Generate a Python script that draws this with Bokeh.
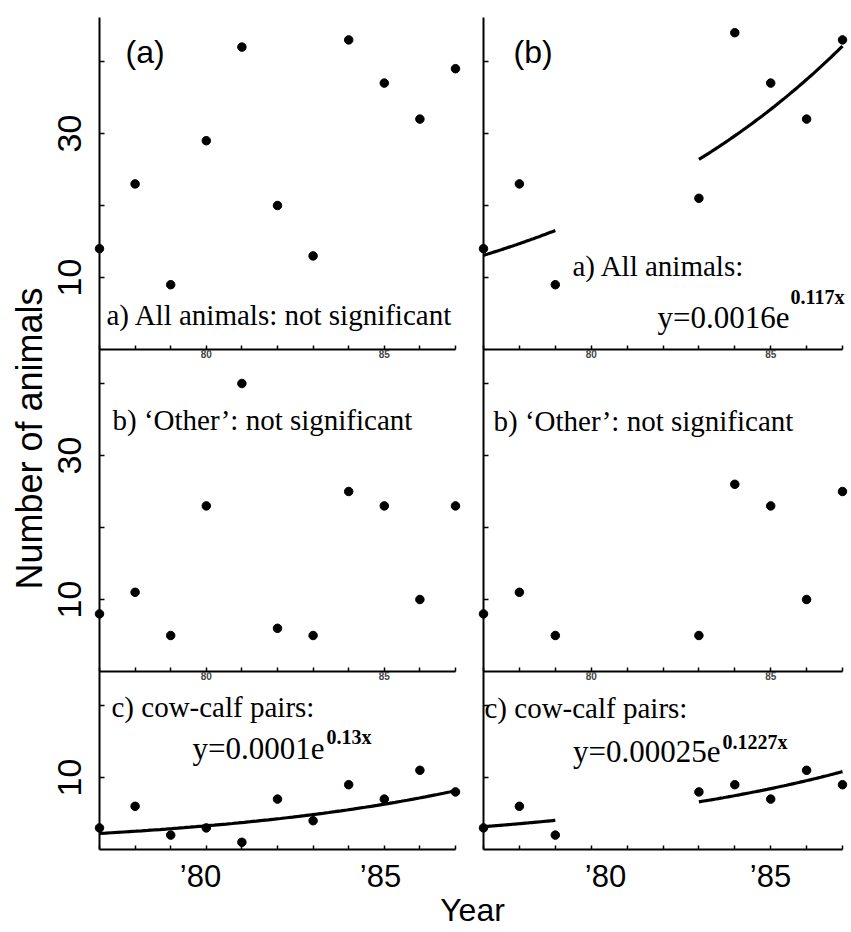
import math
import numpy as np
from bokeh.plotting import figure
from bokeh.models import Range1d, LinearAxis, FixedTicker, Label
from bokeh.embed import file_html
from bokeh.resources import INLINE

# ---------------- data ----------------
years_a = [1977, 1978, 1979, 1980, 1981, 1982, 1983, 1984, 1985, 1986, 1987]
all_a = [14, 23, 9, 29, 42, 20, 13, 43, 37, 32, 39]
other_a = [8, 11, 5, 23, 40, 6, 5, 25, 23, 10, 23]
cowcalf_a = [3, 6, 2, 3, 1, 7, 4, 9, 7, 11, 8]

years_b = [1977, 1978, 1979, 1983, 1984, 1985, 1986, 1987]
all_b = [14, 23, 9, 21, 44, 37, 32, 43]
other_b = [8, 11, 5, 5, 26, 23, 10, 25]
cowcalf_b = [3, 6, 2, 8, 9, 7, 11, 9]

# fitted exponential models y = a * exp(k * x), x = two-digit year
fit_all_b = (0.0016, 0.117)
fit_cowcalf_a = (0.0001, 0.13)
fit_cowcalf_b = (0.00025, 0.1227)
fit_span_a = [(1977, 1987)]
fit_span_b = [(1977, 1979), (1983, 1987)]

tick_years = [1977, 1978, 1979, 1980, 1981, 1982, 1983, 1984, 1985, 1986, 1987]
small_year_labels = {1980: "80", 1985: "85"}
big_year_labels = ["\u201980", "\u201985"]
y_ticks_tall = [10, 20, 30, 40]
y_ticks_short = [10, 20]
y_tick_labels = {10: "10", 30: "30"}

# ---------------- layout geometry (screen pixels) ----------------
W, H = 850, 931
COLS = {"default": (99.0, 35.6), "right": (483.0, 35.9)}     # x of 1977, px per year
ROWS = {"default": 349.0, "mid": 671.0, "bot": 849.0}        # y of value 0
PPU = 7.2                                                    # px per animal
ROW_TOP = {"default": 17.0, "mid": 349.0, "bot": 671.0}


def xrange_for(col):
    x0, ppy = COLS[col]
    start = 1977 - x0 / ppy
    return Range1d(start, start + W / ppy)


def yrange_for(row):
    y0 = ROWS[row]
    return Range1d(-(H - y0) / PPU, y0 / PPU)


def lx(sx):
    x0, ppy = COLS["default"]
    return 1977 + (sx - x0) / ppy


def ly(sy):
    return (ROWS["default"] - sy) / PPU


p = figure(width=W, height=H, x_range=xrange_for("default"), y_range=yrange_for("default"),
           x_axis_type=None, y_axis_type=None, toolbar_location=None, output_backend="svg",
           min_border=0, outline_line_color=None, title=None)
p.extra_x_ranges = {"right": xrange_for("right")}
p.extra_y_ranges = {"mid": yrange_for("mid"), "bot": yrange_for("bot")}

SANS = "Liberation Sans"
SERIF = "Liberation Serif"

for col in ["default", "right"]:
    for row in ["default", "mid", "bot"]:
        top_val = (ROWS[row] - ROW_TOP[row]) / PPU
        yt = y_ticks_short if row == "bot" else y_ticks_tall
        yax = LinearAxis(x_range_name=col, y_range_name=row, fixed_location=1977,
                         bounds=(0, top_val), ticker=FixedTicker(ticks=yt),
                         major_label_overrides={t: y_tick_labels.get(t, "") for t in yt},
                         major_label_orientation="parallel",
                         major_label_text_font=SANS, major_label_text_font_size="34px",
                         major_label_text_color="black" if col == "default" else None,
                         major_label_standoff=19,
                         major_tick_in=5, major_tick_out=0, major_tick_line_width=1.5,
                         minor_tick_line_color=None, axis_line_width=2)
        p.add_layout(yax, "left")
        if row == "bot":
            labels = {t: "" for t in tick_years}
        else:
            labels = {t: small_year_labels.get(t, "") for t in tick_years}
        xax = LinearAxis(x_range_name=col, y_range_name=row, fixed_location=0,
                         bounds=(1977, 1987), ticker=FixedTicker(ticks=tick_years),
                         major_label_overrides=labels,
                         major_label_text_font=SANS, major_label_text_font_size="10px",
                         major_label_text_font_style="bold", major_label_standoff=0,
                         major_tick_in=4, major_tick_out=0, major_tick_line_width=1.5,
                         minor_tick_line_color=None, axis_line_width=2)
        p.add_layout(xax, "below")

# points
series = [
    ("default", "default", years_a, all_a),
    ("default", "mid", years_a, other_a),
    ("default", "bot", years_a, cowcalf_a),
    ("right", "default", years_b, all_b),
    ("right", "mid", years_b, other_b),
    ("right", "bot", years_b, cowcalf_b),
]
for col, row, xs, ys in series:
    p.scatter(xs, ys, marker="circle", size=8.5, fill_color="black", line_color="black",
              x_range_name=col, y_range_name=row)

# fitted curves
fits = [
    ("right", "default", fit_all_b, fit_span_b),
    ("default", "bot", fit_cowcalf_a, fit_span_a),
    ("right", "bot", fit_cowcalf_b, fit_span_b),
]
for col, row, (a, k), spans in fits:
    for (y1, y2) in spans:
        xs = np.linspace(y1, y2, 60)
        ys = a * np.exp(k * (xs - 1900))
        p.line(xs, ys, line_width=3.2, line_color="black", x_range_name=col, y_range_name=row)


def add_text(text, sx, sy, font=SERIF, size=29, align="left", baseline="alphabetic",
             style="normal", angle=0.0):
    # sy is the wanted baseline; Bokeh draws alphabetic text ~0.35em lower
    if baseline == "alphabetic":
        sy = sy - 0.35 * size
    p.add_layout(Label(x=lx(sx), y=ly(sy), text=text, text_font=font,
                       text_font_size=f"{size}px",
                       text_align=align, text_baseline=baseline, text_font_style=style,
                       text_color="black", angle=angle))


# bottom-row year labels (as printed under the lowest axes)
for txt, cx in zip(big_year_labels, [200, 380]):
    add_text(txt, cx, 887, font=SANS, size=31, align="center")
for txt, cx in zip(big_year_labels, [605, 770]):
    add_text(txt, cx, 887, font=SANS, size=31, align="center")

# panel tags
add_text("(a)", 125, 63, font=SANS, size=32)
add_text("(b)", 513, 63, font=SANS, size=32)

# annotations
add_text("a) All animals: not significant", 106, 325)
add_text("a) All animals:", 572, 276)
add_text("y=0.0016e", 789, 328, size=31, align="right")
add_text("0.117x", 790, 303, size=20, style="bold")

add_text("b) \u2018Other\u2019: not significant", 112, 430)
add_text("b) \u2018Other\u2019: not significant", 493, 431)

add_text("c) cow-calf pairs:", 111, 717)
add_text("y=0.0001e", 324, 759, size=31, align="right")
add_text("0.13x", 326, 743, size=20, style="bold")

add_text("c) cow-calf pairs:", 484, 718)
add_text("y=0.00025e", 720, 762, size=31, align="right")
add_text("0.1227x", 722, 748, size=20, style="bold")

# axis titles
add_text("Number of animals", 29, 438, font=SANS, size=36, align="center",
         baseline="middle", angle=math.pi / 2)
add_text("Year", 472, 921, font=SANS, size=32, align="center")

open("out.html", "w").write(file_html(p, INLINE))
